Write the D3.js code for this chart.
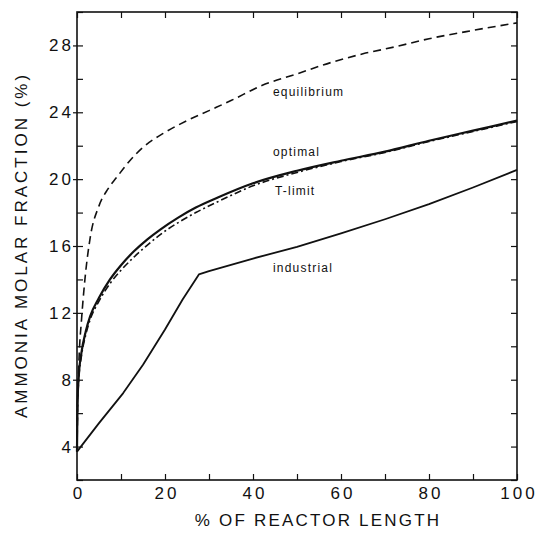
<!DOCTYPE html>
<html>
<head>
<meta charset="utf-8">
<script src="https://cdn.jsdelivr.net/npm/d3@7"></script>
<style>
  body { margin: 0; background: #fff; }
  svg { display: block; }
  .tick-label { font-family: "Liberation Sans", Arial, sans-serif; font-size: 17px; letter-spacing: 3px; fill: #111; }
  .curve-label { font-family: "Liberation Sans", Arial, sans-serif; font-size: 12px; letter-spacing: 1.2px; fill: #111; }
  .axis-title { font-family: "Liberation Sans", Arial, sans-serif; font-size: 17px; fill: #111; }
</style>
</head>
<body>
<div class="chart"></div>
<script>
/* values */
const eqX  = [0, 0.2, 0.5, 1, 1.8, 3, 5, 7, 9, 12, 15, 20, 25, 30, 35, 42, 50, 58, 65, 72, 80, 90, 100];
const eqY  = [3.7, 7, 9.5, 11.5, 14, 16.5, 18.4, 19.4, 20.1, 21.1, 21.9, 22.8, 23.5, 24.1, 24.7, 25.6, 26.3, 27.0, 27.5, 27.9, 28.4, 28.9, 29.35];

const optX = [0, 0.1, 0.4, 1, 2, 3, 5, 7.5, 10, 13, 16, 19, 23, 27, 32, 40, 50, 60, 70, 80, 90, 100];
const optY = [3.7, 6.5, 8.2, 9.6, 10.9, 11.8, 12.9, 14.0, 14.85, 15.7, 16.4, 17.0, 17.7, 18.3, 18.9, 19.75, 20.5, 21.1, 21.65, 22.3, 22.9, 23.5];

const tlimX = [0, 0.1, 0.4, 1, 2, 3, 5, 7.5, 10, 13, 16, 19, 23, 27, 32, 40, 50, 60, 70, 80, 90, 100];
const tlimY = [3.7, 6.3, 8.0, 9.4, 10.7, 11.6, 12.7, 13.75, 14.55, 15.35, 16.05, 16.7, 17.4, 18.0, 18.65, 19.6, 20.4, 21.05, 21.6, 22.25, 22.85, 23.45];

const indX = [0, 5, 10.5, 15, 20, 24, 27.7, 30, 40, 50, 60, 70, 80, 90, 100];
const indY = [3.7, 5.4, 7.2, 8.9, 11.0, 12.8, 14.3, 14.5, 15.25, 15.95, 16.75, 17.6, 18.5, 19.5, 20.55];

const xTickLabels = [0, 20, 40, 60, 80, 100];
const yTickLabels = [4, 8, 12, 16, 20, 24, 28];

const curveNames = ["equilibrium", "optimal", "T-limit", "industrial"];
const curveLabelPos = [[273, 96], [273, 156], [275, 195], [273, 272]]; // label anchors in px

const W = 537, H = 534;
const margin = {left: 77, top: 12, right: 20, bottom: 54};
const innerW = W - margin.left - margin.right;   // 440
const innerH = H - margin.top - margin.bottom;   // 468

const svg = d3.select(".chart").append("svg")
    .attr("width", W)
    .attr("height", H);

const g = svg.append("g").attr("transform", `translate(${margin.left},${margin.top})`);

const x = d3.scaleLinear().domain([0, 100]).range([0, innerW]);
const y = d3.scaleLinear().domain([2, 30]).range([innerH, 0]);

// ticks: inward on all four sides
const minorY = d3.range(2, 31, 2);
const minorX = d3.range(0, 101, 10);

function plainAxis(sel) {
    sel.select(".domain").remove();
    sel.selectAll("line").attr("stroke", "#111").attr("stroke-width", 1.2);
}

g.append("g").call(d3.axisLeft(y).tickValues(minorY).tickSize(-6).tickFormat("")).call(plainAxis);
g.append("g").attr("transform", `translate(${innerW},0)`)
    .call(d3.axisRight(y).tickValues(minorY).tickSize(-6).tickFormat("")).call(plainAxis);
g.append("g").attr("transform", `translate(0,${innerH})`)
    .call(d3.axisBottom(x).tickValues(minorX).tickSize(-6).tickFormat("")).call(plainAxis);
g.append("g")
    .call(d3.axisTop(x).tickValues(minorX).tickSize(-6).tickFormat("")).call(plainAxis);

// labelled y ticks poke outside a little
g.append("g").call(d3.axisLeft(y).tickValues(yTickLabels).tickSize(4).tickFormat("")).call(plainAxis);

// tick labels
const yLab = g.append("g").call(d3.axisLeft(y).tickValues(yTickLabels).tickSize(0).tickPadding(3));
yLab.select(".domain").remove();
yLab.selectAll("text").attr("class", "tick-label").attr("font-size", null).attr("font-family", null);

const xLab = g.append("g").attr("transform", `translate(0,${innerH})`)
    .call(d3.axisBottom(x).tickValues(xTickLabels).tickSize(0).tickPadding(7));
xLab.select(".domain").remove();
xLab.selectAll("text").attr("class", "tick-label").attr("font-size", null).attr("font-family", null)
    .attr("dx", "1.5px");

// frame
g.append("rect")
    .attr("width", innerW).attr("height", innerH)
    .attr("fill", "none").attr("stroke", "#111").attr("stroke-width", 1.6);

// curves
const smooth = d3.line().x(d => x(d[0])).y(d => y(d[1])).curve(d3.curveMonotoneX);
const straight = d3.line().x(d => x(d[0])).y(d => y(d[1]));

g.append("path")
    .datum(d3.zip(eqX, eqY))
    .attr("d", smooth)
    .attr("fill", "none").attr("stroke", "#111").attr("stroke-width", 1.6)
    .attr("stroke-dasharray", "8,5");

g.append("path")
    .datum(d3.zip(optX, optY))
    .attr("d", smooth)
    .attr("fill", "none").attr("stroke", "#111").attr("stroke-width", 2.2);

g.append("path")
    .datum(d3.zip(tlimX, tlimY))
    .attr("d", smooth)
    .attr("fill", "none").attr("stroke", "#111").attr("stroke-width", 1.6)
    .attr("stroke-dasharray", "7,3,2,3");

g.append("path")
    .datum(d3.zip(indX, indY))
    .attr("d", straight)
    .attr("fill", "none").attr("stroke", "#111").attr("stroke-width", 1.8)
    .attr("stroke-linejoin", "round");

// curve labels
svg.selectAll("text.curve-label")
    .data(curveNames)
    .enter()
    .append("text")
    .attr("class", "curve-label")
    .attr("x", (d, i) => curveLabelPos[i][0])
    .attr("y", (d, i) => curveLabelPos[i][1])
    .text(d => d);

// axis titles
svg.append("text")
    .attr("class", "axis-title")
    .attr("transform", "translate(27,245) rotate(-90)")
    .attr("text-anchor", "middle")
    .attr("letter-spacing", "3px")
    .text("AMMONIA MOLAR FRACTION (%)");

svg.append("text")
    .attr("class", "axis-title")
    .attr("x", 318).attr("y", 526)
    .attr("text-anchor", "middle")
    .attr("letter-spacing", "2.2px")
    .text("% OF REACTOR LENGTH");
</script>
</body>
</html>
